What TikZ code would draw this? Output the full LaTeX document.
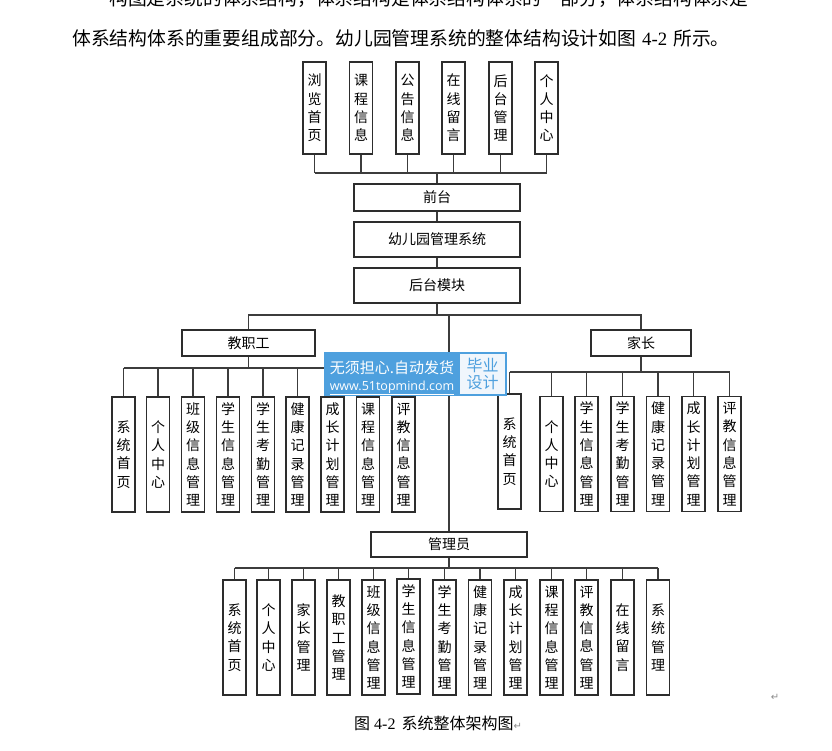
\documentclass[tikz,border=0pt]{standalone}
\usepackage{fontspec}
\setmainfont{Liberation Serif}
\newfontfamily\cjk{Noto Sans CJK SC}
\newfontfamily\wmsans{Open Sans}
\newfontfamily\symf{DejaVu Sans}
\definecolor{wmblue}{RGB}{78,160,222}
\definecolor{wmlight}{RGB}{240,246,252}
\definecolor{linec}{RGB}{60,60,60}
\definecolor{boxc}{RGB}{45,45,45}
\tikzset{
  vbox/.style={draw=boxc, line width=1.3pt, minimum width=23pt, inner sep=0pt,
    font=\cjk\fontsize{14}{18.3}\selectfont, align=center},
  hbox/.style={draw=boxc, line width=1.3pt, inner sep=0pt,
    font=\cjk\fontsize{14}{17}\selectfont},
  conn/.style={draw=linec, line width=1.1pt},
  para/.style={inner sep=0pt, anchor=base west, font=\cjk\fontsize{18.8}{20}\selectfont},
}
\begin{document}
\begin{tikzpicture}[x=1pt,y=-1pt]
\useasboundingbox (0,0) rectangle (832,751);
\clip (0,0) rectangle (832,751);
\fill[white] (0,0) rectangle (832,751);

% paragraph text
\node[para] (p1) at (109,6) {构图是系统的体系结构，体系结构是体系结构体系的一部分，体系结构体系是};
\node[para] (p2) at (72,46) {体系结构体系的重要组成部分。幼儿园管理系统的整体结构设计如图\hspace{6pt}{\rmfamily 4-2}\hspace{6pt}所示。};

% top row
\node[vbox, minimum height=92pt] (t1) at (314.5,108) {浏\\览\\首\\页};
\node[vbox, minimum height=92pt] (t2) at (361,108) {课\\程\\信\\息};
\node[vbox, minimum height=92pt] (t3) at (407.5,108) {公\\告\\信\\息};
\node[vbox, minimum height=92pt] (t4) at (453.5,108) {在\\线\\留\\言};
\node[vbox, minimum height=92pt] (t5) at (500.5,108) {后\\台\\管\\理};
\node[vbox, minimum height=92pt] (t6) at (546.5,108) {个\\人\\中\\心};

% middle chain
\node[hbox, minimum width=166pt, minimum height=27pt] (qt) at (437,197.5) {前台};
\node[hbox, minimum width=166pt, minimum height=35pt] (xt) at (437,239.5) {幼儿园管理系统};
\node[hbox, minimum width=166pt, minimum height=35pt] (ht) at (437,285.5) {后台模块};

\coordinate (bus1) at (437,173);
\foreach \n in {t1,t2,t3,t4,t5,t6} \draw[conn] (\n.south) -- (\n.south |- bus1);
\draw[conn] (t1.south |- bus1) -- (t6.south |- bus1);
\draw[conn] (qt.north) -- (qt.north |- bus1);
\draw[conn] (qt.south) -- (xt.north);
\draw[conn] (xt.south) -- (ht.north);

% roles
\node[hbox, minimum width=133pt, minimum height=26pt] (jzg) at (248.5,343) {教职工};
\node[hbox, minimum width=100pt, minimum height=26pt] (jz) at (641,343) {家长};
\node[hbox, minimum width=156pt, minimum height=25pt] (gly) at (449,544.5) {管理员};

\coordinate (bus2) at (437,315);
\draw[conn] (ht.south) -- (ht.south |- bus2);
\draw[conn] (jzg.north) -- (jzg.north |- bus2) -- (jz.north |- bus2) -- (jz.north);
\draw[conn] (gly.north) -- (gly.north |- bus2);

% teacher children
\node[vbox, minimum height=115pt] (a1) at (123.5,454.5) {系\\统\\首\\页};
\node[vbox, minimum height=115pt] (a2) at (158,454.5) {个\\人\\中\\心};
\node[vbox, minimum height=115pt] (a3) at (193,454.5) {班\\级\\信\\息\\管\\理};
\node[vbox, minimum height=115pt] (a4) at (228,454.5) {学\\生\\信\\息\\管\\理};
\node[vbox, minimum height=115pt] (a5) at (263,454.5) {学\\生\\考\\勤\\管\\理};
\node[vbox, minimum height=115pt] (a6) at (297.5,454.5) {健\\康\\记\\录\\管\\理};
\node[vbox, minimum height=115pt] (a7) at (332.5,454.5) {成\\长\\计\\划\\管\\理};
\node[vbox, minimum height=115pt] (a8) at (368,454.5) {课\\程\\信\\息\\管\\理};
\node[vbox, minimum height=115pt] (a9) at (403.5,454.5) {评\\教\\信\\息\\管\\理};
\coordinate (bus3) at (248.5,368);
\draw[conn] (jzg.south) -- (jzg.south |- bus3);
\draw[conn] (a1.north |- bus3) -- (a9.north |- bus3);
\foreach \n in {a1,a2,a3,a4,a5,a6,a7,a8,a9} \draw[conn] (\n.north) -- (\n.north |- bus3);

% parent children
\node[vbox, minimum height=115pt] (b1) at (509.5,451.5) {系\\统\\首\\页};
\node[vbox, minimum height=115pt] (b2) at (551.5,454) {个\\人\\中\\心};
\node[vbox, minimum height=115pt] (b3) at (586.5,454) {学\\生\\信\\息\\管\\理};
\node[vbox, minimum height=115pt] (b4) at (622.5,454) {学\\生\\考\\勤\\管\\理};
\node[vbox, minimum height=115pt] (b5) at (658,454) {健\\康\\记\\录\\管\\理};
\node[vbox, minimum height=115pt] (b6) at (693.5,454) {成\\长\\计\\划\\管\\理};
\node[vbox, minimum height=115pt] (b7) at (729.5,454) {评\\教\\信\\息\\管\\理};
\coordinate (bus4) at (641,372);
\draw[conn] (jz.south) -- (jz.south |- bus4);
\draw[conn] (b1.north |- bus4) -- (b7.north |- bus4);
\foreach \n in {b1,b2,b3,b4,b5,b6,b7} \draw[conn] (\n.north) -- (\n.north |- bus4);

% admin children
\node[vbox, minimum height=115pt] (c1) at (234.5,637.5) {系\\统\\首\\页};
\node[vbox, minimum height=115pt] (c2) at (268.5,637.5) {个\\人\\中\\心};
\node[vbox, minimum height=115pt] (c3) at (303.5,637.5) {家\\长\\管\\理};
\node[vbox, minimum height=115pt] (c4) at (338.5,637.5) {教\\职\\工\\管\\理};
\node[vbox, minimum height=115pt] (c5) at (373.5,637.5) {班\\级\\信\\息\\管\\理};
\node[vbox, minimum height=115pt] (c6) at (408.5,636.5) {学\\生\\信\\息\\管\\理};
\node[vbox, minimum height=115pt] (c7) at (444.5,637.5) {学\\生\\考\\勤\\管\\理};
\node[vbox, minimum height=115pt] (c8) at (480,637.5) {健\\康\\记\\录\\管\\理};
\node[vbox, minimum height=115pt] (c9) at (515.5,637.5) {成\\长\\计\\划\\管\\理};
\node[vbox, minimum height=115pt] (c10) at (551.5,637.5) {课\\程\\信\\息\\管\\理};
\node[vbox, minimum height=115pt] (c11) at (586.5,637.5) {评\\教\\信\\息\\管\\理};
\node[vbox, minimum height=115pt] (c12) at (622.5,637.5) {在\\线\\留\\言};
\node[vbox, minimum height=115pt] (c13) at (658,637.5) {系\\统\\管\\理};
\coordinate (bus5) at (449,568);
\draw[conn] (gly.south) -- (gly.south |- bus5);
\draw[conn] (c1.north |- bus5) -- (c13.north |- bus5);
\foreach \n in {c1,c2,c3,c4,c5,c6,c7,c8,c9,c10,c11,c12,c13} \draw[conn] (\n.north) -- (\n.north |- bus5);

% caption
\node[inner sep=0pt, anchor=base west, font=\cjk\fontsize{16}{18}\selectfont] (cap) at (354,729)
  {图\hspace{4pt}{\rmfamily 4-2}\hspace{6pt}系统整体架构图{\symf\fontsize{10}{12}\selectfont\color{black!45}↵}};
\node[inner sep=0pt, font=\symf\fontsize{10}{12}\selectfont, text=black!45] (ret) at (775,697) {↵};

% watermark
\fill[wmblue] (324,352) rectangle (507,396);
\fill[wmlight] (460,354) rectangle (505,394);
\node[inner sep=0pt, font=\cjk\fontsize{15}{17}\selectfont, text=white] (wm1) at (392,368) {无须担心.自动发货};
\node[inner sep=0pt, font=\wmsans\fontsize{12.5}{14}\selectfont, text=white] (wm2) at (392,388) {\underline{www.51topmind.com}};
\node[inner sep=0pt, font=\cjk\fontsize{16}{18}\selectfont, text=wmblue, align=center] (wm3) at (482.5,374) {毕业\\[-1pt]设计};
\end{tikzpicture}
\end{document}
